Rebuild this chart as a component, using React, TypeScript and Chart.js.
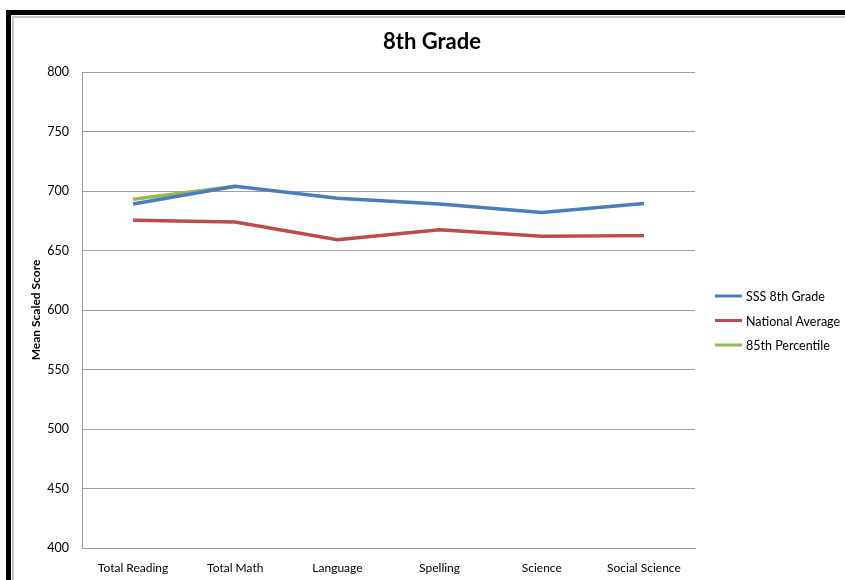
import React, { useEffect, useRef } from "react";
import { Chart, registerables } from "chart.js";

Chart.register(...registerables);

const categories = ["Total Reading", "Total Math", "Language", "Spelling", "Science", "Social Science"];
const sss8thGrade = [689, 704, 694, 689, 682, 689.5];
const nationalAverage = [675.5, 674, 659, 667.5, 662, 662.5];
const percentile85 = [693, 704, null, null, null, null];
const yTicks = [400, 450, 500, 550, 600, 650, 700, 750, 800];

const chartTitle = "8th Grade";
const yAxisTitle = "Mean Scaled Score";
const FONT = "Lato, 'Open Sans', sans-serif";

const overlayPlugin = {
  id: "overlay",
  afterDraw(chart: any) {
    const ctx = chart.ctx;
    const area = chart.chartArea;
    ctx.save();
    // title
    ctx.fillStyle = "#000";
    ctx.font = `bold 22px ${FONT}`;
    ctx.textAlign = "center";
    ctx.textBaseline = "middle";
    ctx.fillText(chartTitle, 432, 42);
    // y-axis title
    ctx.save();
    ctx.translate(36, (area.top + area.bottom) / 2);
    ctx.rotate(-Math.PI / 2);
    ctx.font = `bold 12px ${FONT}`;
    ctx.fillText(yAxisTitle, 0, 0);
    ctx.restore();
    // legend
    const lx = 715;
    const ly = 296;
    const gap = 24.5;
    ctx.font = `12.5px ${FONT}`;
    ctx.textAlign = "left";
    chart.data.datasets.forEach((ds: any, i: number) => {
      const y = ly + i * gap;
      ctx.strokeStyle = ds.borderColor;
      ctx.lineWidth = 3;
      ctx.beginPath();
      ctx.moveTo(lx, y);
      ctx.lineTo(lx + 27, y);
      ctx.stroke();
      ctx.fillStyle = "#000";
      ctx.fillText(ds.label, lx + 31, y + 1);
    });
    ctx.restore();
  },
};

export default function App() {
  const ref = useRef<HTMLCanvasElement>(null);
  useEffect(() => {
    if (!ref.current) return;
    const chart = new Chart(ref.current, {
      type: "line",
      data: {
        labels: categories,
        datasets: [
          { label: "SSS 8th Grade", data: sss8thGrade, borderColor: "#4a7ebb", backgroundColor: "#4a7ebb", borderWidth: 3.5, pointRadius: 0, tension: 0 },
          { label: "National Average", data: nationalAverage, borderColor: "#be4b48", backgroundColor: "#be4b48", borderWidth: 3.5, pointRadius: 0, tension: 0 },
          { label: "85th Percentile", data: percentile85, borderColor: "#98b954", backgroundColor: "#98b954", borderWidth: 3.5, pointRadius: 0, tension: 0 },
        ],
      },
      options: {
        animation: false,
        responsive: false,
        maintainAspectRatio: false,
        layout: { padding: { left: 0, right: 150, top: 72, bottom: 0 } },
        plugins: { legend: { display: false }, title: { display: false }, tooltip: { enabled: false } },
        scales: {
          x: {
            type: "category",
            offset: true,
            grid: { display: false, drawTicks: false },
            border: { display: true, color: "#a0a0a0", width: 1 },
            ticks: { color: "#000", font: { family: FONT, size: 12 }, padding: 13, maxRotation: 0, autoSkip: false },
            afterFit(scale: any) { scale.height = 32; },
          },
          y: {
            min: 400,
            max: 800,
            afterBuildTicks(scale: any) { scale.ticks = yTicks.map((v) => ({ value: v })); },
            grid: { color: "#a0a0a0", lineWidth: 1, drawTicks: false },
            border: { display: true, color: "#a0a0a0", width: 1 },
            ticks: { color: "#000", font: { family: FONT, size: 12.5 }, padding: 13 },
            title: { display: false },
            afterFit(scale: any) { scale.width = 82; },
          },
        },
      },
      plugins: [overlayPlugin],
    } as any);
    return () => chart.destroy();
  }, []);

  return (
    <div style={{ position: "fixed", left: 0, top: 0, width: 845, height: 580, background: "#fff", overflow: "hidden" }}>
      <div style={{ position: "absolute", left: 6, top: 10, right: 0, bottom: 0, borderLeft: "5px solid #000", borderTop: "5px solid #000" }} />
      <div style={{ position: "absolute", left: 12, top: 16, right: 0, bottom: 0, borderLeft: "2px solid #c4c4c4", borderTop: "2px solid #c4c4c4" }} />
      <canvas ref={ref} width={845} height={580} style={{ position: "absolute", left: 0, top: 0 }} />
    </div>
  );
}
